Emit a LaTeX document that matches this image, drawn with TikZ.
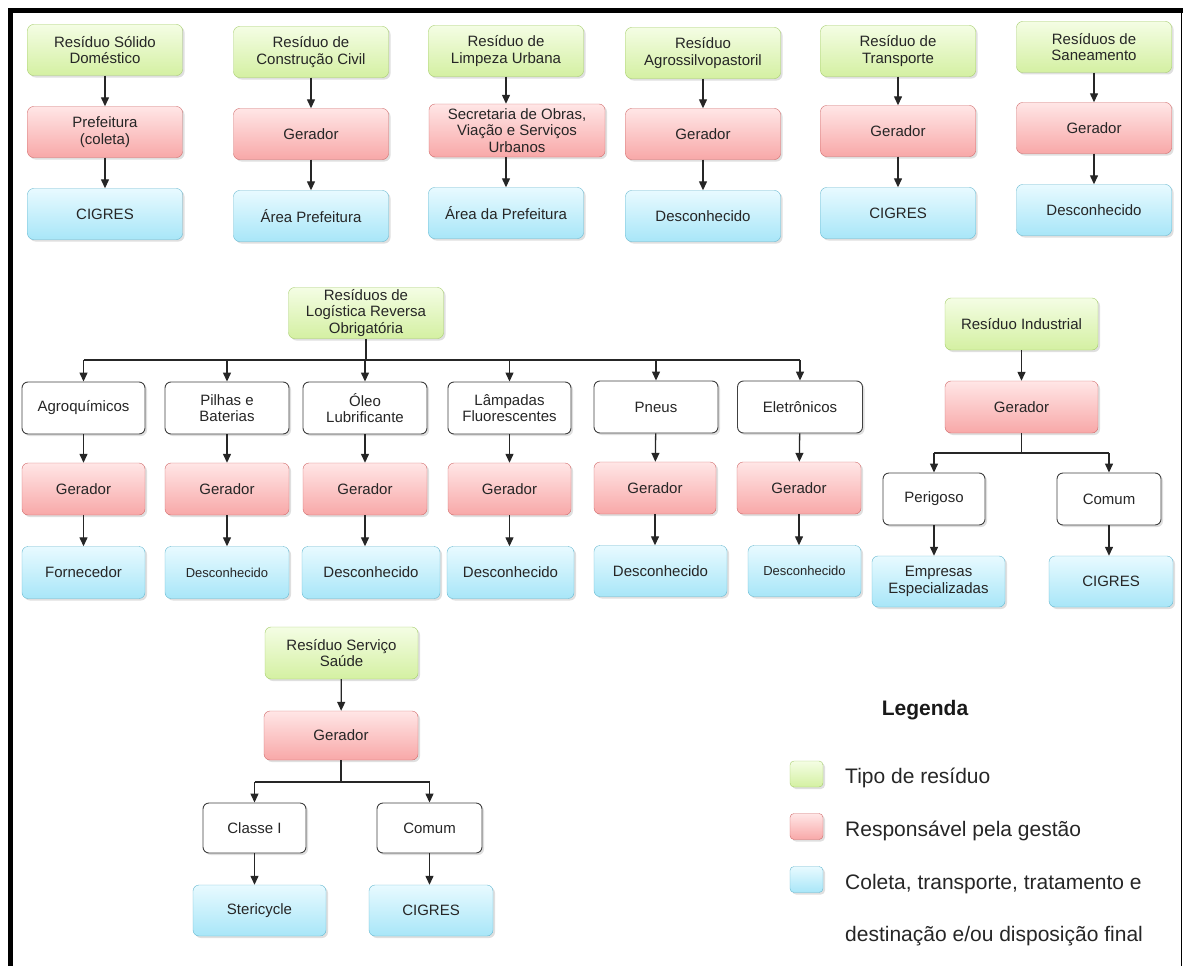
\documentclass[tikz,border=0pt]{standalone}
\usepackage{fontspec}
\setmainfont{Liberation Sans}
\usetikzlibrary{arrows.meta,shadows}

\definecolor{verdeT}{HTML}{F4FDE4}
\definecolor{verdeF}{HTML}{D4F0A2}
\definecolor{verdeB}{HTML}{A4CC6A}
\definecolor{rosaT}{HTML}{FFE6E6}
\definecolor{rosaF}{HTML}{F8A8A8}
\definecolor{rosaB}{HTML}{D06A6A}
\definecolor{azulT}{HTML}{E8FAFF}
\definecolor{azulF}{HTML}{A8E6F8}
\definecolor{azulB}{HTML}{66B8D0}

\begin{document}
\begin{tikzpicture}[x=1pt,y=-1pt]

\useasboundingbox (0,0) rectangle (1183,966);

\tikzset{caixa/.style = {rounded corners=6pt, minimum width=155pt, minimum height=51pt,
                         align=center, inner sep=1pt, text=black!85,
                         font=\fontsize{15}{16.5}\selectfont,
                         drop shadow={shadow xshift=2pt, shadow yshift=-2pt, opacity=0.25}},
         tipo/.style  = {caixa, draw=verdeB, top color=verdeT, bottom color=verdeF},
         resp/.style  = {caixa, draw=rosaB, top color=rosaT, bottom color=rosaF},
         dest/.style  = {caixa, draw=azulB, top color=azulT, bottom color=azulF},
         classe/.style= {caixa, draw=black!75, fill=white, line width=0.9pt},
         seta/.style  = {-{Triangle[length=9pt,width=8pt]}, line width=1.3pt, draw=black!85},
         linha/.style = {line width=1.3pt, draw=black!85},
         miudo/.style = {font=\fontsize{13}{14}\selectfont},
         legtxt/.style= {anchor=west, inner sep=0pt, font=\fontsize{21}{24}\selectfont, text=black!85}}

% moldura
\draw[line width=5pt] (10.5,966) -- (10.5,10.5) -- (1183,10.5);
\draw[line width=1pt] (1181.5,10.5) -- (1181.5,966);

\node[tipo] (t1) at (105,50) {Resíduo Sólido\\Doméstico};
\node[resp] (r1) at (105,132) {Prefeitura\\(coleta)};
\node[dest] (d1) at (105,214) {CIGRES};

\node[tipo] (t2) at (311,52) {Resíduo de\\Construção Civil};
\node[resp] (r2) at (311,134) {Gerador};
\node[dest] (d2) at (311,216) {Área Prefeitura};

\node[tipo] (t3) at (506,51) {Resíduo de\\Limpeza Urbana};
\node[resp, minimum width=176pt, minimum height=53pt, inner sep=0pt] (r3) at (517,130.5) {Secretaria de Obras,\\Viação e Serviços\\Urbanos};
\node[dest] (d3) at (506,213) {Área da Prefeitura};

\node[tipo] (t4) at (703,53) {Resíduo\\Agrossilvopastoril};
\node[resp] (r4) at (703,134) {Gerador};
\node[dest] (d4) at (703,216) {Desconhecido};

\node[tipo] (t5) at (898,51) {Resíduo de\\Transporte};
\node[resp] (r5) at (898,131) {Gerador};
\node[dest] (d5) at (898,213) {CIGRES};

\node[tipo] (t6) at (1094,47) {Resíduos de\\Saneamento};
\node[resp] (r6) at (1094,128) {Gerador};
\node[dest] (d6) at (1094,210) {Desconhecido};

\draw[seta] (t1) -- (r1);
\draw[seta] (r1) -- (d1);
\draw[seta] (t2) -- (r2);
\draw[seta] (r2) -- (d2);
\draw[seta] (t3) -- (t3 |- r3.north);
\draw[seta] (r3.south -| d3) -- (d3);
\draw[seta] (t4) -- (r4);
\draw[seta] (r4) -- (d4);
\draw[seta] (t5) -- (r5);
\draw[seta] (r5) -- (d5);
\draw[seta] (t6) -- (r6);
\draw[seta] (r6) -- (d6);

\node[tipo, inner sep=0pt] (t7) at (366,313) {Resíduos de\\Logística Reversa\\Obrigatória};
\coordinate (b7) at (366,360);

\node[classe, minimum width=123pt, minimum height=52pt] (c1) at (83.5,408) {Agroquímicos};
\node[classe, minimum width=124pt, minimum height=52pt] (c2) at (227,408) {Pilhas e\\Baterias};
\node[classe, minimum width=124pt, minimum height=52pt] (c3) at (365,408) {Óleo\\Lubrificante};
\node[classe, minimum width=123pt, minimum height=52pt] (c4) at (509.5,408) {Lâmpadas\\Fluorescentes};
\node[classe, minimum width=124pt, minimum height=52pt] (c5) at (656,407) {Pneus};
\node[classe, minimum width=125pt, minimum height=52pt] (c6) at (800,407) {Eletrônicos};

\node[resp, minimum width=123pt, minimum height=52pt] (g1) at (83.5,489) {Gerador};
\node[resp, minimum width=124pt, minimum height=52pt] (g2) at (227,489) {Gerador};
\node[resp, minimum width=124pt, minimum height=52pt] (g3) at (365,489) {Gerador};
\node[resp, minimum width=123pt, minimum height=52pt] (g4) at (509.5,489) {Gerador};
\node[resp, minimum width=122pt, minimum height=52pt] (g5) at (655,488) {Gerador};
\node[resp, minimum width=124pt, minimum height=52pt] (g6) at (799,488) {Gerador};

\node[dest, minimum width=123pt, minimum height=52pt] (e1) at (83.5,572.5) {Fornecedor};
\node[dest, miudo, minimum width=124pt, minimum height=52pt] (e2) at (227,572.5) {Desconhecido};
\node[dest, minimum width=138pt, minimum height=52pt] (e3) at (371,572.5) {Desconhecido};
\node[dest, minimum width=127pt, minimum height=52pt] (e4) at (510.5,572.5) {Desconhecido};
\node[dest, minimum width=133pt, minimum height=51pt] (e5) at (660.5,571) {Desconhecido};
\node[dest, miudo, minimum width=113pt, minimum height=51pt] (e6) at (804.5,571) {Desconhecido};

\draw[linha] (t7) -- (b7);
\draw[linha] (c1 |- b7) -- (c6 |- b7);
\draw[seta] (c1 |- b7) -- (c1);
\draw[seta] (c2 |- b7) -- (c2);
\draw[seta] (c3 |- b7) -- (c3);
\draw[seta] (c4 |- b7) -- (c4);
\draw[seta] (c5 |- b7) -- (c5);
\draw[seta] (c6 |- b7) -- (c6);
\draw[seta] (c1) -- (g1);
\draw[seta] (c2) -- (g2);
\draw[seta] (c3) -- (g3);
\draw[seta] (c4) -- (g4);
\draw[seta] (c5) -- (g5);
\draw[seta] (c6) -- (g6);
\draw[seta] (g1) -- (g1 |- e1.north);
\draw[seta] (g2) -- (g2 |- e2.north);
\draw[seta] (g3) -- (g3 |- e3.north);
\draw[seta] (g4) -- (g4 |- e4.north);
\draw[seta] (g5) -- (g5 |- e5.north);
\draw[seta] (g6) -- (g6 |- e6.north);

\node[tipo, minimum width=153pt, minimum height=52pt] (t8) at (1021.5,324) {Resíduo Industrial};
\node[resp, minimum width=153pt, minimum height=52pt] (r8) at (1021.5,407) {Gerador};
\coordinate (b8) at (1021.5,453);
\node[classe, minimum width=102pt, minimum height=52pt] (c7) at (934,499) {Perigoso};
\node[classe, minimum width=104pt, minimum height=52pt] (c8) at (1109,499) {Comum};
\node[dest, minimum width=133pt, minimum height=51pt] (e7) at (938.5,581.5) {Empresas\\Especializadas};
\node[dest, minimum width=124pt, minimum height=51pt] (e8) at (1111,581.5) {CIGRES};

\draw[seta] (t8) -- (r8);
\draw[linha] (r8) -- (b8);
\draw[linha] (c7 |- b8) -- (c8 |- b8);
\draw[seta] (c7 |- b8) -- (c7);
\draw[seta] (c8 |- b8) -- (c8);
\draw[seta] (c7) -- (c7 |- e7.north);
\draw[seta] (c8) -- (c8 |- e8.north);

\node[tipo, minimum width=153pt, minimum height=52pt] (t9) at (341.5,653) {Resíduo Serviço\\Saúde};
\node[resp, minimum width=154pt, minimum height=49pt] (r9) at (341,735.5) {Gerador};
\coordinate (b9) at (341,782);
\node[classe, minimum width=103pt, minimum height=50pt] (c9) at (254.5,828) {Classe I};
\node[classe, minimum width=105pt, minimum height=50pt] (c10) at (429.5,828) {Comum};
\node[dest, minimum width=133pt, minimum height=51pt] (e9) at (259.5,910.5) {Stericycle};
\node[dest, minimum width=124pt, minimum height=51pt] (e10) at (431,910.5) {CIGRES};

\draw[seta] (t9) -- (r9);
\draw[linha] (r9) -- (b9);
\draw[linha] (c9 |- b9) -- (c10 |- b9);
\draw[seta] (c9 |- b9) -- (c9);
\draw[seta] (c10 |- b9) -- (c10);
\draw[seta] (c9) -- (c9 |- e9.north);
\draw[seta] (c10) -- (c10 |- e10.north);

% legenda
\node[font=\bfseries\fontsize{21}{24}\selectfont, text=black!90] (leg) at (925,710) {Legenda};
\node[tipo, minimum width=33pt, minimum height=26pt, rounded corners=4pt] (s1) at (806.5,774) {};
\node[resp, minimum width=33pt, minimum height=26pt, rounded corners=4pt] (s2) at (806.5,826.5) {};
\node[dest, minimum width=33pt, minimum height=26pt, rounded corners=4pt] (s3) at (806.5,879.5) {};
\node[legtxt] (l1) at (845,778) {Tipo de resíduo};
\node[legtxt] (l2) at (845,831) {Responsável pela gestão};
\node[legtxt] (l3) at (845,884) {Coleta, transporte, tratamento e};
\node[legtxt] (l4) at (845,936) {destinação e/ou disposição final};

\end{tikzpicture}
\end{document}
